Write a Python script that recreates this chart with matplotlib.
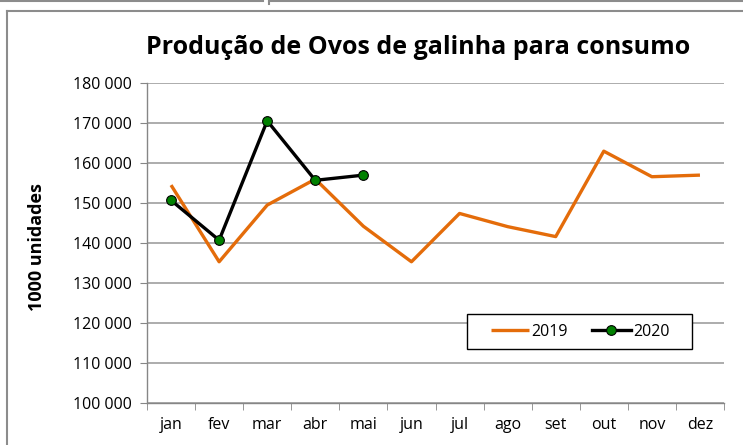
import matplotlib.pyplot as plt
import numpy as np
from matplotlib.lines import Line2D
from matplotlib.patches import Rectangle

# data
months = ['jan', 'fev', 'mar', 'abr', 'mai', 'jun', 'jul', 'ago', 'set', 'out', 'nov', 'dez']
prod_2019 = [154500, 135300, 149500, 156000, 144200, 135300, 147400, 144100, 141600, 163000, 156600, 157000]
prod_2020 = [150700, 140700, 170600, 155700, 157000]
yticks = [100000, 110000, 120000, 130000, 140000, 150000, 160000, 170000, 180000]

plt.rcParams['font.family'] = ['Open Sans', 'DejaVu Sans']

W, H = 743, 445
fig = plt.figure(figsize=(W / 100, H / 100), dpi=100)
ax = fig.add_axes([147 / W, 1 - 402.7 / H, (724 - 147) / W, (402.7 - 83.3) / H])

x = np.arange(len(months))
ax.plot(x, prod_2019, color='#E46C0A', lw=2.4, label='2019', zorder=3, solid_capstyle='butt')
ax.plot(x[:len(prod_2020)], prod_2020, color='black', lw=2.4, marker='o', markersize=7,
        markerfacecolor='#008000', markeredgecolor='black', markeredgewidth=0.8, label='2020', zorder=4)

ax.set_xlim(-0.5, len(months) - 0.5)
ax.set_ylim(100000, 180000)
ax.set_yticks(yticks)
ax.set_yticklabels([f'{v:,}'.replace(',', ' ') for v in yticks], fontsize=11.5)
ax.set_xticks(x)
ax.set_xticklabels(months, fontsize=11.5)
ax.set_xticks(np.arange(-0.5, len(months)), minor=True)
ax.tick_params(axis='x', which='major', length=0, pad=10)
ax.tick_params(axis='x', which='minor', length=5, color='#868686', direction='out')
ax.tick_params(axis='y', length=5, color='#868686', direction='out', pad=6)
ax.grid(axis='y', color='#A6A6A6', lw=1.3)
ax.set_axisbelow(True)
for s in ['top', 'right']:
    ax.spines[s].set_visible(False)
for s in ['left', 'bottom']:
    ax.spines[s].set_color('#868686')
    ax.spines[s].set_linewidth(1.0)

fig.text(37 / W, 1 - 247 / H, '1000 unidades', fontsize=13, fontweight='bold',
         rotation=90, ha='center', va='center')

fig.text(418 / W, 1 - 47 / H, 'Produção de Ovos de galinha para consumo', fontsize=18,
         fontweight='bold', ha='center', va='center')

# legend: contents without frame, box drawn separately (reference box is wider than contents)
leg = ax.legend(loc='center left', bbox_to_anchor=((491 - 147) / 577, 1 - (331.5 - 83.3) / 319.4),
                ncol=2, frameon=False, fontsize=11.5, handlelength=2.4, handletextpad=0.15,
                columnspacing=1.5, borderpad=0, borderaxespad=0)
ax.add_patch(Rectangle(((467 - 147) / 577, 1 - (349 - 83.3) / 319.4), 225 / 577, 35 / 319.4,
                       transform=ax.transAxes, facecolor='white', edgecolor='black', lw=1.0,
                       zorder=5))
leg.set_zorder(6)

# surrounding chart frame and neighbouring boxes
gray = '#8C8C8C'
fig.add_artist(Line2D([7 / W, 7 / W], [0, 1 - 11 / H], color=gray, lw=1.5))
fig.add_artist(Line2D([7 / W, 1], [1 - 11 / H, 1 - 11 / H], color=gray, lw=1.5))
fig.add_artist(Line2D([0, 263 / W], [1 - 1 / H, 1 - 1 / H], color=gray, lw=1.5))
fig.add_artist(Line2D([269 / W, 1], [1 - 1 / H, 1 - 1 / H], color=gray, lw=1.5))
fig.add_artist(Line2D([269 / W, 269 / W], [1 - 4 / H, 1], color=gray, lw=1.5))

fig.savefig('out.png', dpi=100)
